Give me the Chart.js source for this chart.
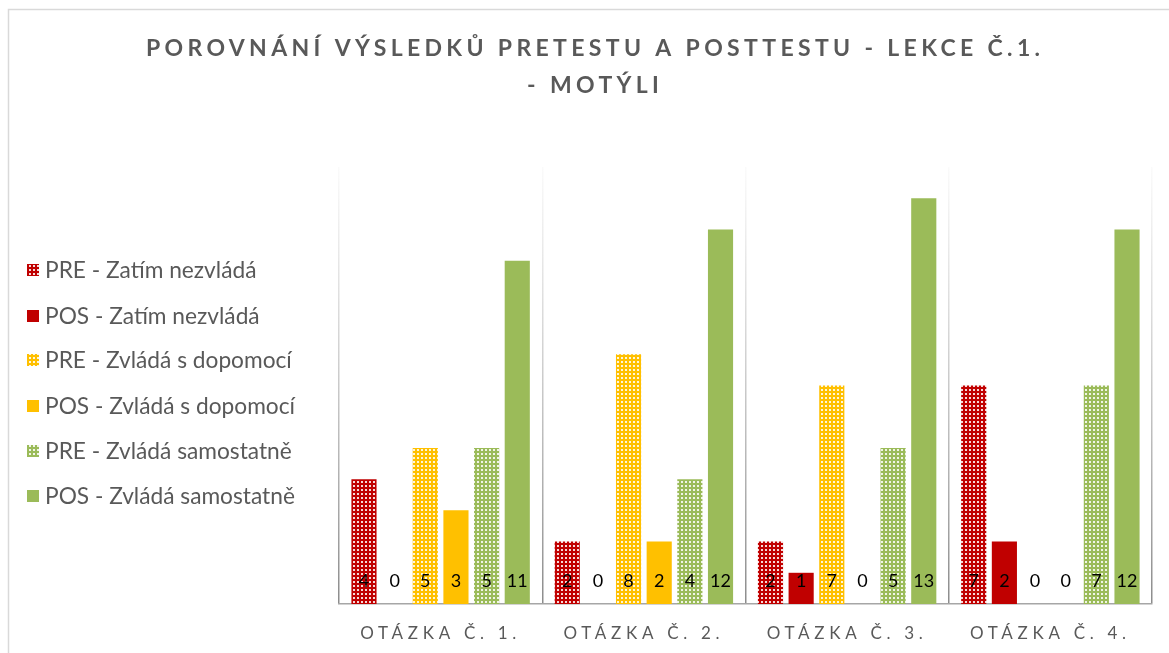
<!DOCTYPE html>
<html>
<head>
<meta charset="utf-8">
<script src="https://cdn.jsdelivr.net/npm/chart.js@4.4.0/dist/chart.umd.min.js"></script>
<style>
html,body{margin:0;padding:0;background:#fff;}
#wrap{width:1169px;height:653px;position:relative;}
</style>
</head>
<body>
<div id="wrap"><canvas id="c" width="1169" height="653"></canvas></div>
<script>
const categories = ["Otázka č. 1.", "Otázka č. 2.", "Otázka č. 3.", "Otázka č. 4."];
const seriesNames = [
  "PRE - Zatím nezvládá",
  "POS - Zatím nezvládá",
  "PRE - Zvládá s dopomocí",
  "POS - Zvládá s dopomocí",
  "PRE - Zvládá samostatně",
  "POS - Zvládá samostatně"
];
const preZatim = [4, 2, 2, 7];
const posZatim = [0, 0, 1, 2];
const preDopomoc = [5, 8, 7, 0];
const posDopomoc = [3, 2, 0, 0];
const preSamo = [5, 4, 5, 7];
const posSamo = [11, 12, 13, 12];
const titleLines = ["POROVNÁNÍ VÝSLEDKŮ PRETESTU A POSTTESTU - LEKCE Č.1.", "- MOTÝLI"];
const yMax = 14;

const RED = "#C00000", ORANGE = "#FFC000", GREEN = "#9BBB59";
const FONT = "Lato, 'Open Sans', sans-serif";
const TICK_SIZE = 17;

function makePattern(color) {
  const t = document.createElement("canvas");
  t.width = 4; t.height = 4;
  const g = t.getContext("2d");
  g.fillStyle = color; g.fillRect(0, 0, 4, 4);
  g.fillStyle = "rgba(255,255,255,0.85)";
  g.fillRect(1, 1, 2, 2);
  return document.getElementById("c").getContext("2d").createPattern(t, "repeat");
}

const seriesData = [preZatim, posZatim, preDopomoc, posDopomoc, preSamo, posSamo];
const seriesColors = [makePattern(RED), RED, makePattern(ORANGE), ORANGE, makePattern(GREEN), GREEN];

const datasets = seriesData.map((d, i) => ({
  label: seriesNames[i],
  data: d,
  backgroundColor: seriesColors[i],
  borderWidth: 0,
  categoryPercentage: 0.905,
  barPercentage: 0.82
}));

const decorPlugin = {
  id: "decor",
  beforeDraw(chart) {
    const ctx = chart.ctx;
    ctx.save();
    ctx.fillStyle = "#fff";
    ctx.fillRect(0, 0, chart.width, chart.height);
    ctx.strokeStyle = "#D9D9D9";
    ctx.lineWidth = 1.5;
    ctx.beginPath();
    ctx.moveTo(8.5, chart.height);
    ctx.lineTo(8.5, 9.5);
    ctx.lineTo(chart.width, 9.5);
    ctx.stroke();
    ctx.restore();
    // letter spacing for the category axis labels
    ctx.save();
    ctx.letterSpacing = "0px";
    ctx.font = TICK_SIZE + "px " + FONT;
    const lbl = chart.data.labels[0];
    const w = ctx.measureText(lbl).width;
    ctx.restore();
    const sp = Math.max(0, (156 - w) / (lbl.length - 1));
    ctx.letterSpacing = sp.toFixed(2) + "px";
  },
  afterDatasetsDraw(chart) {
    const ctx = chart.ctx;
    ctx.save();
    ctx.letterSpacing = "0px";
    ctx.font = "18px " + FONT;
    ctx.fillStyle = "#000";
    ctx.textAlign = "center";
    ctx.textBaseline = "middle";
    const base = chart.scales.y.getPixelForValue(0);
    chart.data.datasets.forEach((ds, di) => {
      const meta = chart.getDatasetMeta(di);
      meta.data.forEach((el, i) => {
        ctx.fillText(String(ds.data[i]), el.x, base - 23);
      });
    });
    ctx.restore();
  },
  afterDraw(chart) {
    const ctx = chart.ctx;
    ctx.save();
    // title
    ctx.fillStyle = "#595959";
    ctx.textBaseline = "middle";
    ctx.textAlign = "left";
    const tSize = 23;
    ctx.font = "bold " + tSize + "px " + FONT;
    ctx.letterSpacing = "0px";
    const l1 = titleLines[0];
    const w0 = ctx.measureText(l1).width;
    const targetW = 894;
    const sp = Math.max(0, (targetW - w0) / (l1.length - 1));
    ctx.letterSpacing = sp.toFixed(2) + "px";
    const cx = 593;
    const ys = [49, 86];
    titleLines.forEach((t, k) => {
      const w = ctx.measureText(t).width - sp;
      ctx.fillText(t, cx - w / 2, ys[k]);
    });
    // legend
    ctx.letterSpacing = "0px";
    ctx.font = "18px " + FONT;
    const mw = ctx.measureText(seriesNames[5]).width;
    const lSize = 18 * 250 / mw;
    ctx.font = lSize.toFixed(2) + "px " + FONT;
    const ly = [270, 316, 360, 406, 451, 496];
    chart.data.datasets.forEach((ds, i) => {
      ctx.fillStyle = ds.backgroundColor;
      ctx.fillRect(27, ly[i] - 6, 12, 12);
      ctx.fillStyle = "#595959";
      ctx.fillText(ds.label, 45, ly[i] + 1);
    });
    ctx.restore();
  }
};

new Chart(document.getElementById("c"), {
  type: "bar",
  data: { labels: categories.map(s => s.toUpperCase()), datasets },
  options: {
    responsive: false,
    animation: false,
    events: [],
    layout: { padding: { left: 339, right: 17, top: 167, bottom: 11 } },
    plugins: { legend: { display: false }, title: { display: false }, tooltip: { enabled: false } },
    scales: {
      x: {
        afterFit(scale) { scale.height = 38; },
        grid: {
          display: true,
          offset: true,
          drawTicks: false,
          lineWidth: 1.5,
          color: (c) => {
            const ch = c.chart, a = ch.chartArea;
            if (!a) return "#BFBFBF";
            const g = ch.ctx.createLinearGradient(0, a.top, 0, a.bottom);
            g.addColorStop(0, "rgba(166,166,166,0.05)");
            g.addColorStop(1, "rgba(140,140,140,1)");
            return g;
          }
        },
        border: { display: true, color: "#A6A6A6", width: 1.5 },
        ticks: { color: "#595959", font: { family: FONT, size: TICK_SIZE }, padding: 19 }
      },
      y: {
        display: false,
        min: 0,
        max: yMax,
        grid: { display: false }
      }
    }
  },
  plugins: [decorPlugin]
});
</script>
</body>
</html>
